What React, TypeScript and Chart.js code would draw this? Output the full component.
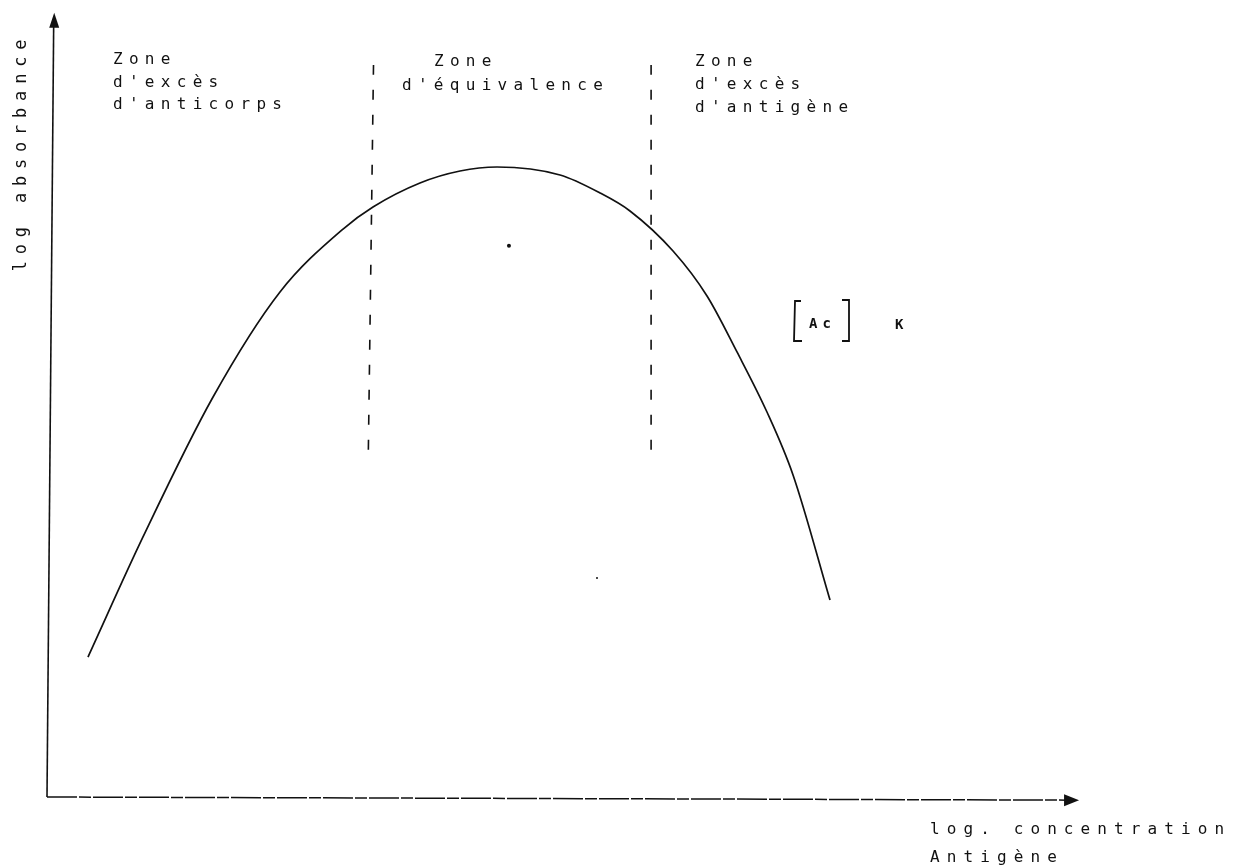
import React, { useEffect, useRef } from "react";
import { Chart, registerables } from "chart.js";

Chart.register(...registerables);

// Precipitin curve (log concentration antigène vs log absorbance), arbitrary units 0..100
const curveX = [3.98, 9.32, 16.12, 22.62, 28.74, 31.65, 36.21, 40.1, 43.69, 49.81, 53.69, 56.6, 60.78, 64.08, 66.99, 69.9, 72.43, 76.02];
const curveY = [17.9, 33.25, 51.15, 64.58, 72.63, 75.45, 78.52, 80.05, 80.56, 79.54, 77.24, 74.94, 69.82, 64.07, 56.91, 49.23, 41.18, 25.19];

// zone boundaries (dashed verticals): [bottom, top]
const boundaryLeftX = [31.2, 31.7];
const boundaryRightX = [58.65, 58.65];
const boundaryY = [44.4, 93.6];

// isolated marks
const markX = [44.85, 53.4];
const markY = [70.5, 28.0];

const zoneLeft = ["Zone", "d'excès", "d'anticorps"];
const zoneMid = ["Zone", "d'équivalence"];
const zoneRight = ["Zone", "d'excès", "d'antigène"];
const yTitle = "log absorbance";
const xTitle = ["log. concentration", "Antigène"];

const MONO = '"DejaVu Sans Mono", "Liberation Mono", monospace';

const decorPlugin = {
  id: "decor",
  afterDatasetsDraw(chart: any) {
    const { ctx } = chart;
    const xs = chart.scales.x;
    const ys = chart.scales.y;
    const px = (v: number) => xs.getPixelForValue(v);
    const py = (v: number) => ys.getPixelForValue(v);
    ctx.save();
    ctx.strokeStyle = "#111";
    ctx.fillStyle = "#111";

    // Y axis (slightly leaning, as drawn)
    ctx.lineWidth = 1.6;
    ctx.beginPath();
    ctx.moveTo(px(0), py(0));
    ctx.lineTo(px(0.65), py(99));
    ctx.stroke();
    const tx = px(0.7), ty = py(100.3);
    ctx.beginPath();
    ctx.moveTo(tx, ty);
    ctx.lineTo(tx - 5, ty + 15);
    ctx.lineTo(tx + 5, ty + 15);
    ctx.closePath();
    ctx.fill();

    // X axis (scan-like broken line)
    ctx.lineWidth = 1.5;
    ctx.setLineDash([30, 2, 12, 2]);
    ctx.beginPath();
    ctx.moveTo(px(0), py(0));
    ctx.lineTo(px(99), py(-0.4));
    ctx.stroke();
    ctx.setLineDash([]);
    const ax = px(100.2), ay = py(-0.4);
    ctx.beginPath();
    ctx.moveTo(ax, ay);
    ctx.lineTo(ax - 15, ay - 6);
    ctx.lineTo(ax - 15, ay + 6);
    ctx.closePath();
    ctx.fill();

    // Texts
    ctx.font = `16px ${MONO}`;
    (ctx as any).letterSpacing = "6.3px";
    ctx.textAlign = "left";
    ctx.textBaseline = "alphabetic";
    const drawLines = (lines: string[], x: number, y0: number, dy: number) => {
      lines.forEach((s, i) => ctx.fillText(s, x, y0 + i * dy));
    };
    drawLines(zoneLeft, 113, 64, 22.5);
    ctx.fillText(zoneMid[0], 434, 66);
    ctx.fillText(zoneMid[1], 402, 90);
    drawLines(zoneRight, 695, 66, 23);

    // x title
    (ctx as any).letterSpacing = "7.1px";
    drawLines(xTitle, 930, 834, 28);

    // y title rotated
    ctx.save();
    ctx.translate(26, 152);
    ctx.rotate(-Math.PI / 2);
    ctx.textAlign = "center";
    ctx.font = `17px ${MONO}`;
    (ctx as any).letterSpacing = "6.8px";
    ctx.fillText(yTitle, 0, 0);
    ctx.restore();

    // [Ac]  K
    ctx.lineWidth = 1.8;
    ctx.beginPath();
    ctx.moveTo(801, 301);
    ctx.lineTo(795, 301);
    ctx.lineTo(794, 341);
    ctx.lineTo(802, 341);
    ctx.stroke();
    ctx.beginPath();
    ctx.moveTo(842, 300);
    ctx.lineTo(849, 300);
    ctx.lineTo(849, 341);
    ctx.lineTo(842, 341);
    ctx.stroke();
    ctx.font = `bold 14px ${MONO}`;
    (ctx as any).letterSpacing = "5px";
    ctx.fillText("Ac", 809, 328);
    ctx.fillText("K", 895, 329);

    ctx.restore();
  },
};

export default function App() {
  const ref = useRef<HTMLCanvasElement | null>(null);
  useEffect(() => {
    if (!ref.current) return;
    const curve = curveX.map((x, i) => ({ x, y: curveY[i] }));
    const b1 = boundaryY.map((y, i) => ({ x: boundaryLeftX[i], y }));
    const b2 = boundaryY.map((y, i) => ({ x: boundaryRightX[i], y }));
    const marks = markX.map((x, i) => ({ x, y: markY[i] }));
    const chart = new Chart(ref.current, {
      type: "scatter",
      data: {
        datasets: [
          {
            data: curve,
            showLine: true,
            borderColor: "#111",
            borderWidth: 1.7,
            pointRadius: 0,
            cubicInterpolationMode: "monotone",
          } as any,
          {
            data: b1,
            showLine: true,
            borderColor: "#111",
            borderWidth: 1.6,
            borderDash: [10, 15],
            pointRadius: 0,
          },
          {
            data: b2,
            showLine: true,
            borderColor: "#111",
            borderWidth: 1.6,
            borderDash: [10, 15],
            pointRadius: 0,
          },
          {
            data: marks,
            showLine: false,
            backgroundColor: "#111",
            borderColor: "#111",
            pointRadius: [2, 1],
            pointBorderWidth: 0,
          } as any,
        ],
      },
      options: {
        animation: false,
        responsive: false,
        devicePixelRatio: 1,
        layout: { padding: { left: 47, right: 174, top: 15, bottom: 68 } },
        plugins: { legend: { display: false }, tooltip: { enabled: false }, title: { display: false } },
        scales: {
          x: { type: "linear", min: 0, max: 100, display: false },
          y: { type: "linear", min: 0, max: 100, display: false },
        },
        clip: false as any,
        events: [],
      },
      plugins: [decorPlugin],
    });
    return () => chart.destroy();
  }, []);
  return (
    <div style={{ position: "absolute", left: 0, top: 0, width: 1251, height: 865, background: "#fff" }}>
      <canvas ref={ref} width={1251} height={865} />
    </div>
  );
}
